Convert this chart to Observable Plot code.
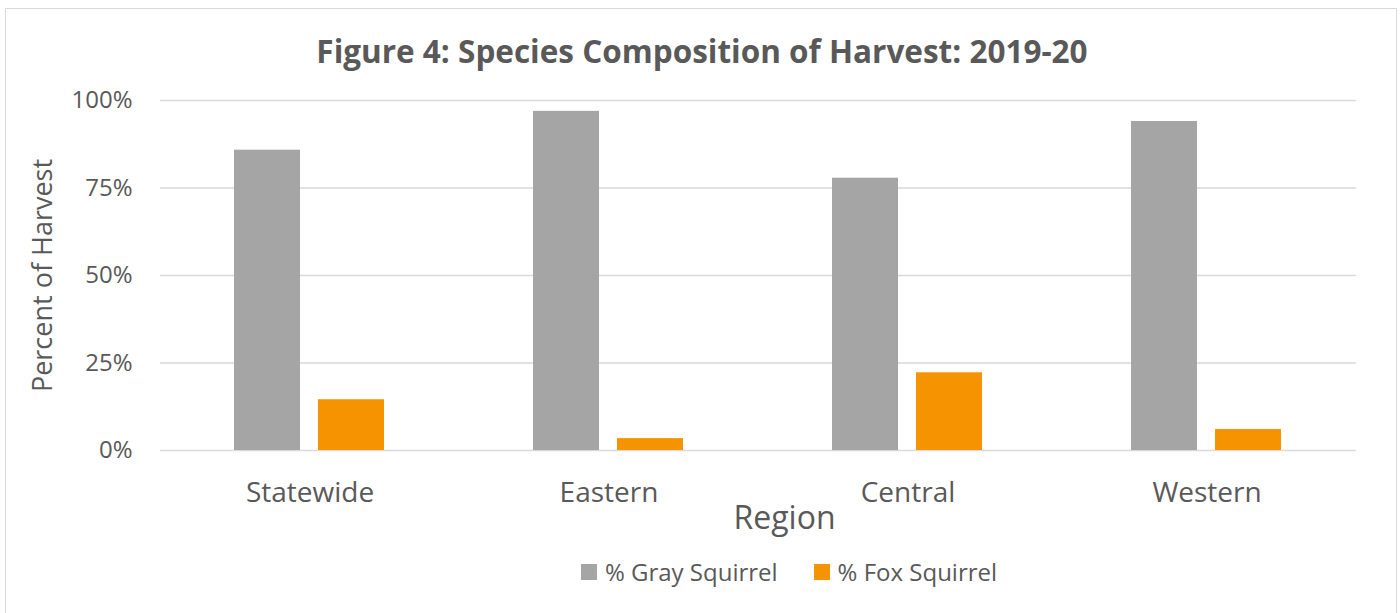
<!DOCTYPE html>
<html>
<head>
<meta charset="utf-8">
<script src="https://cdn.jsdelivr.net/npm/d3@7"></script>
<script src="https://cdn.jsdelivr.net/npm/@observablehq/plot@0.6"></script>
<style>
  html, body { margin: 0; padding: 0; background: #fff; }
  body { width: 1400px; height: 613px; position: relative; overflow: hidden; font-family: "Open Sans", sans-serif; color: #595959; }
  #frame { position: absolute; left: 5px; top: 8px; width: 1392px; height: 640px; border: 1px solid #d9d9d9; box-sizing: border-box; }
  #title { position: absolute; left: 0; top: 31px; width: 1400px; padding-left: 4px; box-sizing: border-box; text-align: center; font-weight: bold; font-size: 31.5px; line-height: 40px; color: #595959; }
  #chart { position: absolute; left: 0; top: 0; }
  #legend { position: absolute; left: 0; top: 556px; width: 1400px; display: flex; justify-content: center; gap: 36px; font-size: 24px; line-height: 32px; color: #595959; padding-left: 178px; box-sizing: border-box; }
  #legend .item { display: flex; align-items: center; gap: 8px; }
  #legend .sw { width: 16px; height: 16px; display: inline-block; }
  svg g[aria-label="y-axis label"] text { font-size: 27px; }
  svg g[aria-label="fx-axis label"] text { font-size: 32px; }
  svg g[aria-label="fx-axis label"] { translate: 26px 0px; }
</style>
</head>
<body>
<div id="frame"></div>
<div id="chart"></div>
<div id="title">Figure 4: Species Composition of Harvest: 2019-20</div>
<div id="legend"></div>
<script>
const regions = ["Statewide", "Eastern", "Central", "Western"];
const series = ["% Gray Squirrel", "% Fox Squirrel"];
const grayValues = [0.858, 0.969, 0.778, 0.940];
const foxValues = [0.145, 0.034, 0.222, 0.060];
const colors = ["#a5a5a5", "#f59300"];
const yTicks = [0, 0.25, 0.5, 0.75, 1];

const data = regions.flatMap((r, i) => [
  {region: r, series: series[0], value: grayValues[i]},
  {region: r, series: series[1], value: foxValues[i]}
]);

const chart = Plot.plot({
  width: 1400,
  height: 545,
  marginLeft: 158,
  marginRight: 43,
  marginTop: 100,
  marginBottom: 95,
  style: {fontFamily: "Open Sans", color: "#595959", background: "transparent", overflow: "visible"},
  fx: {domain: regions, padding: 0},
  x: {domain: series, paddingInner: 0.212, paddingOuter: 0.871, axis: null},
  y: {domain: [0, 1]},
  color: {domain: series, range: colors},
  marks: [
    Plot.gridY(yTicks, {stroke: "#d9d9d9", strokeOpacity: 1, strokeWidth: 1.5}),
    Plot.barY(data, {fx: "region", x: "series", y: "value", fill: "series"}),
    Plot.axisFx({anchor: "bottom", tickSize: 0, tickPadding: 32, fontSize: 28, label: "Region", labelAnchor: "center", labelOffset: 78}),
    Plot.axisY(yTicks, {anchor: "left", tickSize: 0, tickPadding: 28, fontSize: 24, tickFormat: d3.format(".0%"), label: "Percent of Harvest", labelAnchor: "center", labelArrow: "none", labelOffset: 128})
  ]
});
document.getElementById("chart").appendChild(chart);

const legend = d3.select("#legend");
series.forEach((s, i) => {
  const item = legend.append("div").attr("class", "item");
  item.append("span").attr("class", "sw").style("background", colors[i]);
  item.append("span").text(s);
});
</script>
</body>
</html>
